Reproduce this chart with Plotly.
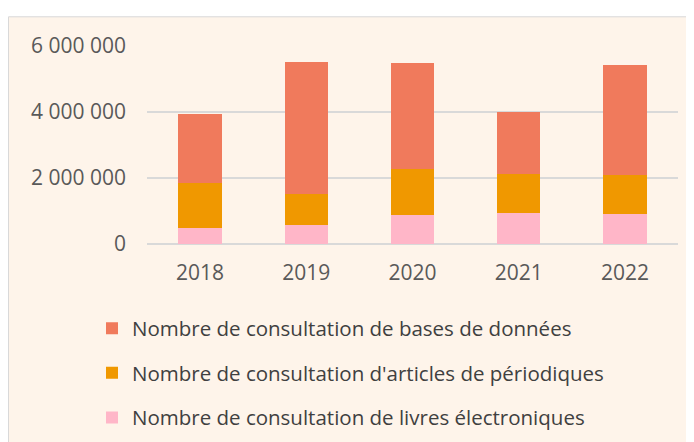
import plotly.graph_objects as go

years = ["2018", "2019", "2020", "2021", "2022"]
livres = [500000, 563000, 870000, 930000, 900000]
articles = [1355000, 963000, 1395000, 1200000, 1200000]
bases = [2095000, 3990000, 3225000, 1880000, 3330000]

names = [
    "Nombre de consultation de livres électroniques",
    "Nombre de consultation d'articles de périodiques",
    "Nombre de consultation de bases de données",
]
colors = ["#FFB6C8", "#F09800", "#F07A5C"]
ranks = [3, 2, 1]
tick_vals = [0, 2000000, 4000000, 6000000]
tick_text = ["0", "2 000 000", "4 000 000", "6 000 000"]

W, H = 694, 442
L, R, T, B = 139, 24, 38, 204
pw, ph = W - L - R, H - T - B

fig = go.Figure()
for i, (vals, name, col) in enumerate(zip([livres, articles, bases], names, colors)):
    fig.add_trace(go.Bar(x=years, y=vals, name=name, marker_color=col,
                         marker_line_width=0, legendgroup=f"g{i}",
                         legendrank=ranks[i]))

def px_x(p):
    return (p - L) / pw

def px_y(p):
    return (H - B - p) / ph

fig.add_shape(type="rect", xref="paper", yref="paper",
              x0=px_x(0.5), x1=px_x(W + 20), y0=px_y(H + 20), y1=px_y(8.5),
              fillcolor="#FEF4EA", line=dict(color="#D9D9D9", width=1), layer="below")

fig.update_layout(
    width=W, height=H,
    margin=dict(l=L, r=R, t=T, b=B),
    barmode="stack", bargap=0.59,
    paper_bgcolor="white", plot_bgcolor="rgba(0,0,0,0)",
    font=dict(family="Open Sans, sans-serif", color="#595959", size=21),
    xaxis=dict(showgrid=False, showline=False, ticks="", ticklabelstandoff=14,
               tickfont=dict(size=21, color="#595959")),
    yaxis=dict(range=[0, 6000000], tickvals=tick_vals, ticktext=tick_text,
               showgrid=True, gridcolor="#D9D9D9", gridwidth=1.5,
               zeroline=True, zerolinecolor="#D9D9D9", zerolinewidth=1.5,
               ticklabelstandoff=20, tickfont=dict(size=21, color="#595959")),
    legend=dict(orientation="v", x=px_x(84), xanchor="left", y=px_y(303), yanchor="top",
                traceorder="grouped", tracegroupgap=15,
                font=dict(size=20.5, color="#404040"), bgcolor="rgba(0,0,0,0)"),
    showlegend=True,
)

fig.write_html("out.html")
